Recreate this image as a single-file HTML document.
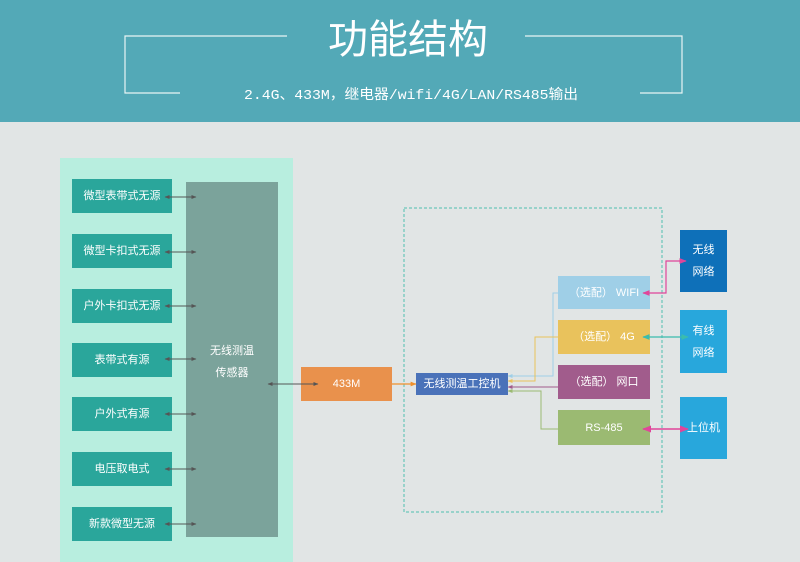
<!DOCTYPE html>
<html><head><meta charset="utf-8"><style>
body{margin:0;width:800px;height:562px;overflow:hidden;font-family:"Liberation Sans","Noto Sans CJK SC",sans-serif;}
.bg{position:absolute;left:0;top:0;width:800px;height:562px;background:#e1e5e5;}
.hd{position:absolute;left:0;top:0;width:800px;height:122px;background:#53a9b7;}
.b{position:absolute;color:#fff;font-size:11px;display:flex;align-items:center;justify-content:center;text-align:center;line-height:22px;}
</style></head><body>
<div class="bg"></div>
<div class="hd"></div>
<svg width="800" height="562" style="position:absolute;left:0;top:0">
<g stroke="#e8f4f4" stroke-width="1.2" fill="none">
<polyline points="287,36 125,36 125,93 180,93"/>
<polyline points="525,36 682,36 682,93 640,93"/>
</g>
<text x="408" y="53" fill="#fff" font-size="40" text-anchor="middle" font-family="Noto Sans CJK SC,sans-serif">功能结构</text>
<text x="411" y="99" fill="#fff" font-size="14" text-anchor="middle" textLength="334" lengthAdjust="spacingAndGlyphs" font-family="Liberation Mono,Noto Sans CJK SC,monospace">2.4G、433M，继电器/wifi/4G/LAN/RS485输出</text>
<rect x="60" y="158" width="233" height="404" fill="#b8eedf"/>
<rect x="186" y="182" width="92" height="355" fill="#7ba39b"/>
<rect x="404" y="208" width="258" height="304" fill="none" stroke="#4fc0b0" stroke-dasharray="3,2"/>
</svg>
<div class="b" style="left:72px;top:179px;width:100px;height:34px;background:#2aa69b">微型表带式无源</div>
<div class="b" style="left:72px;top:234px;width:100px;height:34px;background:#2aa69b">微型卡扣式无源</div>
<div class="b" style="left:72px;top:289px;width:100px;height:34px;background:#2aa69b">户外卡扣式无源</div>
<div class="b" style="left:72px;top:343px;width:100px;height:34px;background:#2aa69b">表带式有源</div>
<div class="b" style="left:72px;top:397px;width:100px;height:34px;background:#2aa69b">户外式有源</div>
<div class="b" style="left:72px;top:452px;width:100px;height:34px;background:#2aa69b">电压取电式</div>
<div class="b" style="left:72px;top:507px;width:100px;height:34px;background:#2aa69b">新款微型无源</div>
<div class="b" style="left:186px;top:340px;width:92px;height:44px;">无线测温<br>传感器</div>
<div class="b" style="left:301px;top:367px;width:91px;height:34px;background:#e9914c">433M</div>
<div class="b" style="left:416px;top:373px;width:92px;height:22px;background:#4a72b9">无线测温工控机</div>
<div class="b" style="left:558px;top:276px;width:92px;height:33px;background:#9fcfe7">（选配） WIFI</div>
<div class="b" style="left:558px;top:320px;width:92px;height:34px;background:#e9c25c">（选配） 4G</div>
<div class="b" style="left:558px;top:365px;width:92px;height:34px;background:#a15c8c">（选配） 网口</div>
<div class="b" style="left:558px;top:410px;width:92px;height:35px;background:#9bba72">RS-485</div>
<div class="b" style="left:680px;top:230px;width:47px;height:62px;background:#0e70b9">无线<br>网络</div>
<div class="b" style="left:680px;top:310px;width:47px;height:63px;background:#28a7dc">有线<br>网络</div>
<div class="b" style="left:680px;top:397px;width:47px;height:62px;background:#28a7dc">上位机</div>
<svg width="800" height="562" style="position:absolute;left:0;top:0">
<defs>
<marker id="g" viewBox="0 0 10 10" refX="9" refY="5" markerWidth="5" markerHeight="5" orient="auto-start-reverse"><path d="M0,1L10,5L0,9z" fill="#555"/></marker>
<marker id="o" viewBox="0 0 10 10" refX="9" refY="5" markerWidth="5" markerHeight="5" orient="auto-start-reverse"><path d="M0,1L10,5L0,9z" fill="#f0902c"/></marker>
<marker id="lb" viewBox="0 0 10 10" refX="9" refY="5" markerWidth="5" markerHeight="5" orient="auto-start-reverse"><path d="M0,1L10,5L0,9z" fill="#9fcfe7"/></marker>
<marker id="y" viewBox="0 0 10 10" refX="9" refY="5" markerWidth="5" markerHeight="5" orient="auto-start-reverse"><path d="M0,1L10,5L0,9z" fill="#e9c25c"/></marker>
<marker id="p" viewBox="0 0 10 10" refX="9" refY="5" markerWidth="5" markerHeight="5" orient="auto-start-reverse"><path d="M0,1L10,5L0,9z" fill="#a15c8c"/></marker>
<marker id="gr" viewBox="0 0 10 10" refX="9" refY="5" markerWidth="5" markerHeight="5" orient="auto-start-reverse"><path d="M0,1L10,5L0,9z" fill="#9bba72"/></marker>
<marker id="pk" viewBox="0 0 10 10" refX="9" refY="5" markerWidth="6" markerHeight="6" orient="auto-start-reverse"><path d="M0,1L10,5L0,9z" fill="#e0459a"/></marker>
<marker id="t" viewBox="0 0 10 10" refX="9" refY="5" markerWidth="6" markerHeight="6" orient="auto-start-reverse"><path d="M0,1L10,5L0,9z" fill="#3bbcad"/></marker>
</defs>
<g stroke="#555" stroke-width="1" marker-start="url(#g)" marker-end="url(#g)">
<line x1="165" y1="197" x2="196" y2="197"/><line x1="165" y1="252" x2="196" y2="252"/>
<line x1="165" y1="306" x2="196" y2="306"/><line x1="165" y1="359" x2="196" y2="359"/>
<line x1="165" y1="414" x2="196" y2="414"/><line x1="165" y1="469" x2="196" y2="469"/>
<line x1="165" y1="524" x2="196" y2="524"/>
<line x1="268" y1="384" x2="318" y2="384"/>
</g>
<line x1="392" y1="384" x2="416" y2="384" stroke="#f0902c" stroke-width="1.2" marker-end="url(#o)"/>
<polyline points="558,293 553,293 553,376 508,376" fill="none" stroke="#9fcfe7" marker-end="url(#lb)"/>
<polyline points="558,337 535,337 535,381 508,381" fill="none" stroke="#e9c25c" marker-end="url(#y)"/>
<line x1="558" y1="387" x2="508" y2="387" stroke="#a15c8c" marker-end="url(#p)"/>
<polyline points="558,429 541,429 541,391 508,391" fill="none" stroke="#9bba72" marker-end="url(#gr)"/>
<polyline points="643,293 666,293 666,261 686,261" fill="none" stroke="#e0459a" stroke-width="1.2" marker-start="url(#pk)" marker-end="url(#pk)"/>
<line x1="643" y1="337" x2="688" y2="337" stroke="#3bbcad" stroke-width="1.2" marker-start="url(#t)" marker-end="url(#t)"/>
<line x1="643" y1="429" x2="688" y2="429" stroke="#e0459a" stroke-width="1.5" marker-start="url(#pk)" marker-end="url(#pk)"/>
</svg>
</body></html>
